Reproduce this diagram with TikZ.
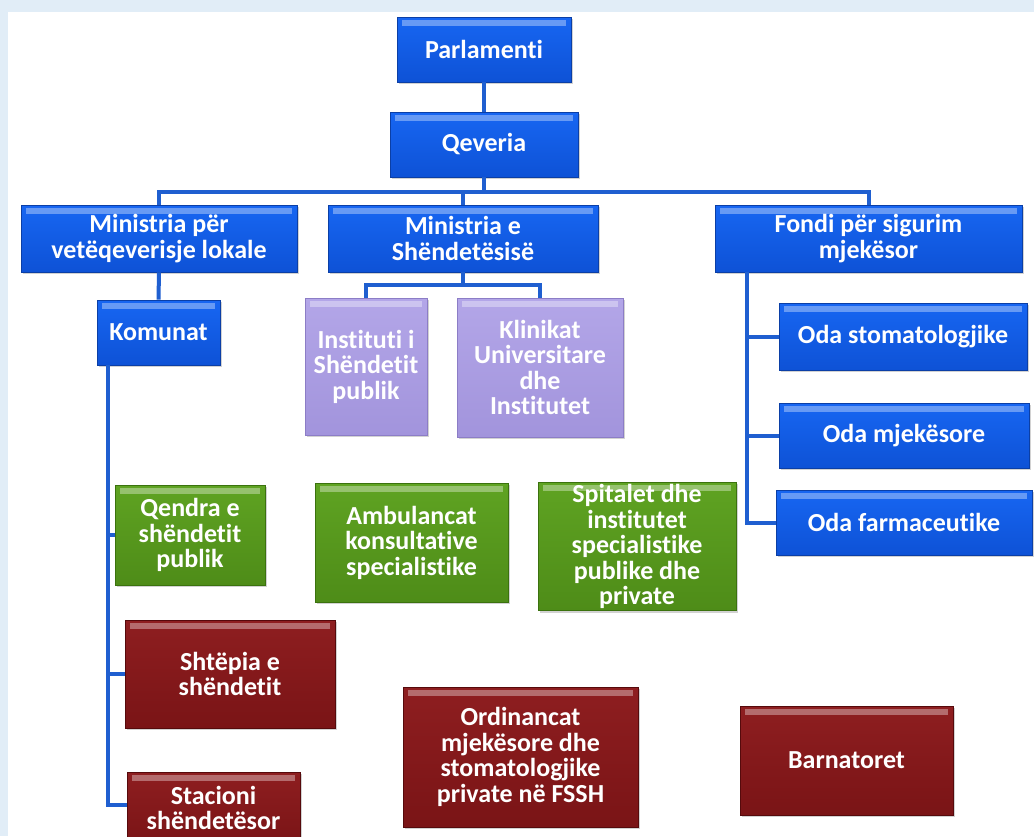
\documentclass[tikz,border=0pt]{standalone}
\usepackage{fontspec}
\setmainfont{Carlito}[Ligatures=NoCommon]
\usetikzlibrary{shadows}
\definecolor{page-band}{HTML}{E1EDF7}
\definecolor{line-blue}{HTML}{1F5FD0}
\definecolor{blue-main}{HTML}{1766F2}
\definecolor{blue-low}{HTML}{0E52D6}
\definecolor{blue-edge}{HTML}{0B3FA6}
\definecolor{lilac-main}{HTML}{B3A6E8}
\definecolor{lilac-low}{HTML}{A294DC}
\definecolor{lilac-edge}{HTML}{8C7DC6}
\definecolor{green-main}{HTML}{5FA322}
\definecolor{green-low}{HTML}{4E8C18}
\definecolor{green-edge}{HTML}{3B720E}
\definecolor{red-main}{HTML}{8E1E20}
\definecolor{red-low}{HTML}{7A1416}
\definecolor{red-edge}{HTML}{560A0C}
\tikzset{
    org-box/.style = {rectangle, text=white, align=center, inner sep=2pt, thick,
        font=\fontsize{26}{25.5}\selectfont\bfseries,
        drop shadow={shadow xshift=2pt, shadow yshift=-2pt, opacity=0.35},
        path picture={\fill[white, opacity=0.35] ([xshift=5pt,yshift=-3pt]path picture bounding box.north west)
            rectangle ([xshift=-5pt,yshift=-9pt]path picture bounding box.north east);}},
    box-size/.style 2 args = {minimum width=#1pt, minimum height=#2pt},
    blue-box/.style = {org-box, draw=blue-edge, top color=blue-main, bottom color=blue-low},
    lilac-box/.style = {org-box, draw=lilac-edge, top color=lilac-main, bottom color=lilac-low},
    green-box/.style = {org-box, draw=green-edge, top color=green-main, bottom color=green-low},
    red-box/.style = {org-box, draw=red-edge, top color=red-main, bottom color=red-low},
    connector/.style = {draw=line-blue, line width=4pt},
}

\begin{document}
\begin{tikzpicture}[x=1pt, y=-1pt]
\path[use as bounding box] (0,0) rectangle (1034,836);
\clip (0,0) rectangle (1034,836);
\fill[page-band] (0,0) rectangle (1034,836);
\fill[white] (8,12) rectangle (1034,836);

% top of the tree
\node[blue-box, box-size={174}{65}] (parlamenti) at (484,49.5) {Parlamenti};
\node[blue-box, box-size={188}{65}] (qeveria) at (484,144.5) {Qeveria};

% ministries and fund
\node[blue-box, box-size={276}{67}] (min-lokale) at (159,238.5) {Ministria për\\vetëqeverisje lokale};
\node[blue-box, box-size={270}{67}] (min-shendetesise) at (463,238.5) {Ministria e\\Shëndetësisë};
\node[blue-box, box-size={307}{67}] (fondi) at (868.5,238.5) {Fondi për sigurim\\mjekësor};

\node[blue-box, box-size={123}{65}] (komunat) at (158.5,332.5) {Komunat};
\node[lilac-box, box-size={122}{137}] (instituti) at (366,366.5) {Instituti i\\Shëndetit\\publik};
\node[lilac-box, box-size={166}{139}] (klinikat) at (540,367.5) {Klinikat\\Universitare\\dhe\\Institutet};

\node[blue-box, box-size={248}{67}] (oda-stom) at (903,336.5) {Oda stomatologjike};
\node[blue-box, box-size={250}{65}] (oda-mjek) at (904,435.5) {Oda mjekësore};
\node[blue-box, box-size={256}{65}] (oda-farm) at (904,522.5) {Oda farmaceutike};

% health care level
\node[green-box, box-size={150}{100}] (qendra) at (190,535) {Qendra e\\shëndetit\\publik};
\node[green-box, box-size={193}{119}] (ambulancat) at (411.5,542.5) {Ambulancat\\konsultative\\specialistike};
\node[green-box, box-size={198}{127}] (spitalet) at (637,546.5) {Spitalet dhe\\institutet\\specialistike\\publike dhe\\private};

\node[red-box, box-size={210}{108}] (shtepia) at (230,674) {Shtëpia e\\shëndetit};
\node[red-box, box-size={173}{72}] (stacioni) at (213.5,808) {Stacioni\\shëndetësor};
\node[red-box, box-size={235}{140}] (ordinancat) at (520.5,757) {Ordinancat\\mjekësore dhe\\stomatologjike\\private në FSSH};
\node[red-box, box-size={213}{109}] (barnatoret) at (846.5,760.5) {Barnatoret};

% connectors
\draw[connector] (parlamenti) -- (qeveria);
\draw[connector] (qeveria.south) -- ++(0,15) -| (min-lokale.north);
\draw[connector] (qeveria.south) -- ++(0,15) -| (min-shendetesise.north);
\draw[connector] (qeveria.south) -- ++(0,15) -| (fondi.north);
\draw[connector] (min-lokale) -- (komunat);
\draw[connector] (min-shendetesise.south) -- ++(0,13) -| (instituti.north);
\draw[connector] (min-shendetesise.south) -- ++(0,13) -| (klinikat.north);
\draw[connector] ([xshift=11pt]komunat.south west) |- (qendra.west);
\draw[connector] ([xshift=11pt]komunat.south west) |- (shtepia.west);
\draw[connector] ([xshift=11pt]komunat.south west) |- ([yshift=3pt]stacioni.west);
\draw[connector] ([xshift=32pt]fondi.south west) |- (oda-stom.west);
\draw[connector] ([xshift=32pt]fondi.south west) |- (oda-mjek.west);
\draw[connector] ([xshift=32pt]fondi.south west) |- (oda-farm.west);
\end{tikzpicture}
\end{document}
